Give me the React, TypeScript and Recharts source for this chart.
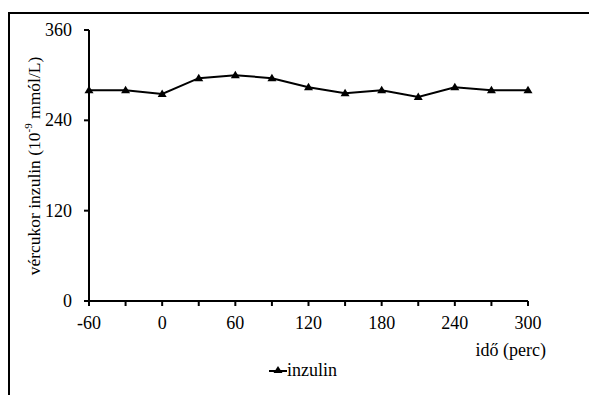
import { LineChart, Line, XAxis, YAxis } from 'recharts'

// ---------------------------------------------------------------------------
// Data
// ---------------------------------------------------------------------------

const minutes = [-60, -30, 0, 30, 60, 90, 120, 150, 180, 210, 240, 270, 300]
const insulin = [280, 280, 275, 296, 300, 296, 284, 276, 280, 271, 284, 280, 280]
const xTicks = [-60, -30, 0, 30, 60, 90, 120, 150, 180, 210, 240, 270, 300]
const yTicks = [0, 120, 240, 360]

const data = minutes.map((m, i) => ({ t: m, inzulin: insulin[i] }))

const FONT = '"Times New Roman", "Liberation Serif", serif'

// ---------------------------------------------------------------------------
// Pieces
// ---------------------------------------------------------------------------

function Triangle(props: any) {
  const { cx, cy } = props
  if (cx == null || cy == null) return null
  return <path d={`M${cx},${cy - 4.5}L${cx + 4.5},${cy + 3}L${cx - 4.5},${cy + 3}Z`} fill="#000" />
}

function XTick(props: any) {
  const { x, y, payload } = props
  if (payload.value % 60 !== 0) return null
  return (
    <text x={x} y={y + 15} textAnchor="middle" fill="#000" style={{ fontFamily: FONT, fontSize: 18 }}>
      {payload.value}
    </text>
  )
}

function YTick(props: any) {
  const { x, y, payload } = props
  return (
    <text x={x} y={y + 6} textAnchor="end" fill="#000" style={{ fontFamily: FONT, fontSize: 18 }}>
      {payload.value}
    </text>
  )
}

export default function App() {
  return (
    <div style={{ position: 'absolute', left: 0, top: 0, width: 589, height: 395, overflow: 'hidden', background: '#fff' }}>
      {/* clipped frame: only top and left edges show */}
      <div
        style={{
          position: 'absolute', left: 8, top: 12, width: 700, height: 500,
          borderTop: '2px solid #000', borderLeft: '2px solid #000',
        }}
      />
      <div style={{ position: 'absolute', left: 0, top: 0 }}>
        <LineChart width={589} height={395} data={data} margin={{ top: 30, right: 61, bottom: 64, left: 29 }}>
          <XAxis
            dataKey="t"
            type="number"
            domain={[-60, 300]}
            ticks={xTicks}
            interval={0}
            tickSize={5}
            tickMargin={8}
            height={30}
            axisLine={{ stroke: '#000', strokeWidth: 2 }}
            tickLine={{ stroke: '#000', strokeWidth: 2 }}
            tick={<XTick />}
            label={{
              content: ({ viewBox }: any) => (
                <text
                  x={viewBox.x + viewBox.width + 18}
                  y={viewBox.y + viewBox.height + 25}
                  textAnchor="end"
                  fill="#000"
                  style={{ fontFamily: FONT, fontSize: 18 }}
                >
                  idő (perc)
                </text>
              ),
            }}
          />
          <YAxis
            type="number"
            domain={[0, 360]}
            ticks={yTicks}
            interval={0}
            width={60}
            tickSize={5}
            tickMargin={12}
            axisLine={{ stroke: '#000', strokeWidth: 2 }}
            tickLine={{ stroke: '#000', strokeWidth: 2 }}
            tick={<YTick />}
            label={{
              content: () => (
                <text
                  x={34}
                  y={166}
                  transform="rotate(-90 34 166)"
                  textAnchor="middle"
                  dominantBaseline="central"
                  fill="#000"
                  style={{ fontFamily: FONT, fontSize: 17.5 }}
                >
                  vércukor inzulin (10
                  <tspan style={{ fontSize: 11 }} dy={-6}>-9</tspan>
                  <tspan dy={6}> mmól/L)</tspan>
                </text>
              ),
            }}
          />
          <Line
            type="linear"
            dataKey="inzulin"
            stroke="#000"
            strokeWidth={2}
            dot={<Triangle />}
            activeDot={false}
            isAnimationActive={false}
          />
        </LineChart>
      </div>
      {/* legend */}
      <div
        style={{
          position: 'absolute', left: 269, top: 360, display: 'flex', alignItems: 'center',
          fontFamily: FONT, fontSize: 18, color: '#000', lineHeight: '20px',
        }}
      >
        <svg width={18} height={12}>
          <line x1={0} y1={7} x2={18} y2={7} stroke="#000" strokeWidth={2} />
          <path d="M9,2L13.5,9L4.5,9Z" fill="#000" />
        </svg>
        <span>inzulin</span>
      </div>
    </div>
  )
}
